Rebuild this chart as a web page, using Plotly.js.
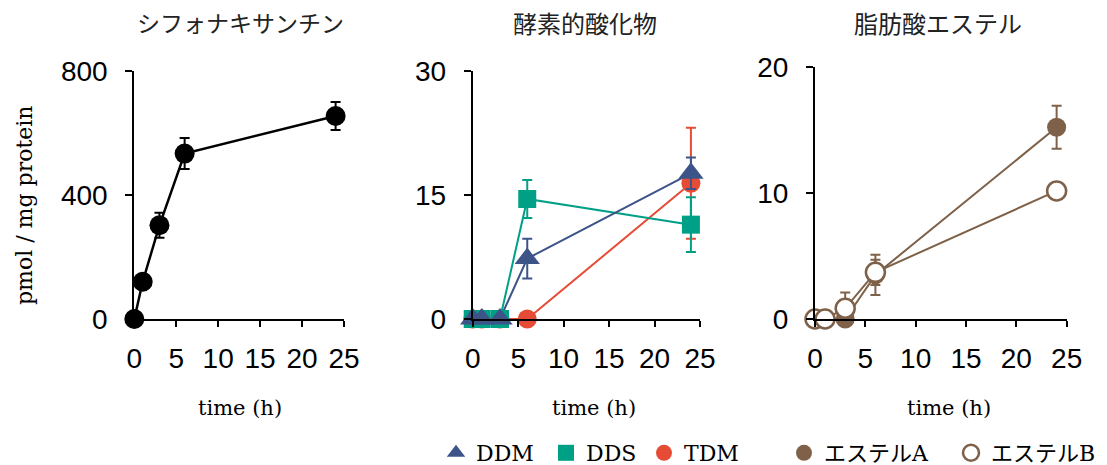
<!DOCTYPE html>
<html>
<head>
<meta charset="utf-8">
<script src="https://cdn.plot.ly/plotly-3.0.1.min.js"></script>
<style>html,body{margin:0;padding:0;background:#fff;}#chart{width:1107px;height:465px;}</style>
</head>
<body>
<div id="chart"></div>
<script>
// ---- data ----
const time = [0, 1, 3, 6, 24];
// panel 1: siphonaxanthin
const siphonaxanthin = [0, 120, 302, 533, 654];
const siphonaxanthinErr = [0, 0, 40, 50, 45];
// panel 2: enzymatic oxidation products
const DDM = [0, 0, 0, 7.3, 17.6];
const DDMErr = [0, 0, 0, 2.4, 1.9];
const DDS = [0, 0, 0, 14.5, 11.4];
const DDSErr = [0, 0, 0, 2.3, 3.3];
const TDM = [0, 0, 0, 0, 16.4];
const TDMErr = [0, 0, 0, 0, 6.7];
// panel 3: fatty acid esters
const esterA = [0, 0, 0, 3.5, 15.2];
const esterAErr = [0, 0, 0, 1.6, 1.7];
const esterB = [0, 0, 0.85, 3.7, 10.15];
const esterBErr = [0, 0, 1.25, 1.0, 0];
// labels
const panelTitles = ['シフォナキサンチン', '酵素的酸化物', '脂肪酸エステル'];
const xTitle = 'time (h)';
const yTitle = 'pmol / mg protein';
const yTicks1 = [0, 400, 800];
const yTicks2 = [0, 15, 30];
const yTicks3 = [0, 10, 20];
const xTicks = [0, 5, 10, 15, 20, 25];

const W = 1107, H = 465;
const C = {ddm: '#3C5488', dds: '#00A087', tdm: '#E64B35', est: '#7E6148'};

function err(arr, color) {
  return {type: 'data', array: arr, visible: true, color: color, thickness: 2, width: 5};
}
function lineTrace(y, color, w, ax) {
  return {x: time, y: y, xaxis: 'x' + ax, yaxis: 'y' + ax, mode: 'lines',
    line: {color: color, width: w}, cliponaxis: false, showlegend: false, hoverinfo: 'skip'};
}
function markTrace(y, e, color, marker, ax, name, legend) {
  return {x: time, y: y, error_y: err(e, color), xaxis: 'x' + ax, yaxis: 'y' + ax, mode: 'markers',
    marker: marker, cliponaxis: false, name: name, legend: legend, showlegend: !!legend};
}

const traces = [
  lineTrace(siphonaxanthin, '#000', 2.5, ''),
  lineTrace(TDM, C.tdm, 2, '2'),
  lineTrace(DDS, C.dds, 2, '2'),
  lineTrace(DDM, C.ddm, 2, '2'),
  lineTrace(esterA, C.est, 2, '3'),
  lineTrace(esterB, C.est, 2, '3'),
  markTrace(siphonaxanthin, siphonaxanthinErr, '#000', {color: '#000', size: 20}, '', 'シフォナキサンチン', null),
  markTrace(TDM, TDMErr, C.tdm, {color: C.tdm, size: 19, symbol: 'circle'}, '2', 'TDM', 'legend3'),
  markTrace(DDS, DDSErr, C.dds, {color: C.dds, size: 18, symbol: 'square'}, '2', 'DDS', 'legend2'),
  markTrace(DDM, DDMErr, C.ddm, {color: C.ddm, size: 22, symbol: 'triangle-up'}, '2', 'DDM', 'legend'),
  markTrace(esterA, esterAErr, C.est, {color: C.est, size: 19, symbol: 'circle'}, '3', 'エステルA', 'legend4'),
  markTrace(esterB, esterBErr, C.est, {color: '#fff', size: 19, symbol: 'circle', line: {color: C.est, width: 2.5}}, '3', 'エステルB', 'legend5')
];

const tickFont = {family: 'Liberation Sans, Arial, sans-serif', size: 28, color: '#000'};
function xax(d0, d1, anchor) {
  return {domain: [d0 / W, d1 / W], range: [0, 25], tickvals: xTicks, anchor: anchor,
    showline: true, linecolor: '#000', linewidth: 2, ticks: 'outside', ticklen: 6, tickwidth: 2,
    tickcolor: '#000', showgrid: false, zeroline: false, tickfont: tickFont, ticklabelstandoff: 7, fixedrange: true};
}
function yax(top, range, tv, anchor) {
  return {domain: [1 - 319 / H, 1 - top / H], range: range, tickvals: tv, anchor: anchor,
    showline: true, linecolor: '#000', linewidth: 2, ticks: 'outside', ticklen: 7, tickwidth: 2,
    tickcolor: '#000', showgrid: false, zeroline: false, tickfont: tickFont, ticklabelstandoff: 12, fixedrange: true};
}

const serif = 'DejaVu Serif, Noto Sans CJK JP, serif';
const jp = 'Noto Sans CJK JP, sans-serif';
const annotations = [];
const titleX = [240, 585, 938];
const titleSize = [23, 24, 24];
panelTitles.forEach((t, i) => annotations.push({text: t, xref: 'paper', yref: 'paper',
  x: titleX[i] / W, y: 1 - 22 / H, xanchor: 'center', yanchor: 'middle', showarrow: false,
  font: {family: jp, size: titleSize[i], color: '#222'}}));
[240, 594, 949].forEach(cx => annotations.push({text: xTitle, xref: 'paper', yref: 'paper',
  x: cx / W, y: 1 - 408 / H, xanchor: 'center', yanchor: 'middle', showarrow: false,
  font: {family: serif, size: 21, color: '#000'}}));
annotations.push({text: yTitle, xref: 'paper', yref: 'paper', x: 24 / W, y: 1 - 206 / H,
  xanchor: 'center', yanchor: 'middle', textangle: -90, showarrow: false,
  font: {family: serif, size: 22, color: '#000'}});

function leg(cx) {
  return {x: (cx - 20) / W, y: 1 - 453 / H, xanchor: 'left', yanchor: 'middle', orientation: 'h',
    bgcolor: 'rgba(0,0,0,0)', borderwidth: 0, itemsizing: 'trace',
    font: {family: serif, size: 22, color: '#000'}};
}

const layout = {
  width: W, height: H, margin: {l: 0, r: 0, t: 0, b: 0, autoexpand: false},
  paper_bgcolor: '#fff', plot_bgcolor: 'rgba(0,0,0,0)',
  xaxis: xax(134.3, 344, 'y'), yaxis: yax(70.7, [0, 800], yTicks1, 'x'),
  xaxis2: xax(472.7, 700, 'y2'), yaxis2: yax(70.7, [0, 30], yTicks2, 'x2'),
  xaxis3: xax(815, 1066.7, 'y3'), yaxis3: yax(66.7, [0, 20], yTicks3, 'x3'),
  annotations: annotations,
  legend: leg(456), legend2: leg(566), legend3: leg(664), legend4: leg(804), legend5: leg(971)
};

Plotly.newPlot('chart', traces, layout, {displayModeBar: false, staticPlot: true});
</script>
</body>
</html>
